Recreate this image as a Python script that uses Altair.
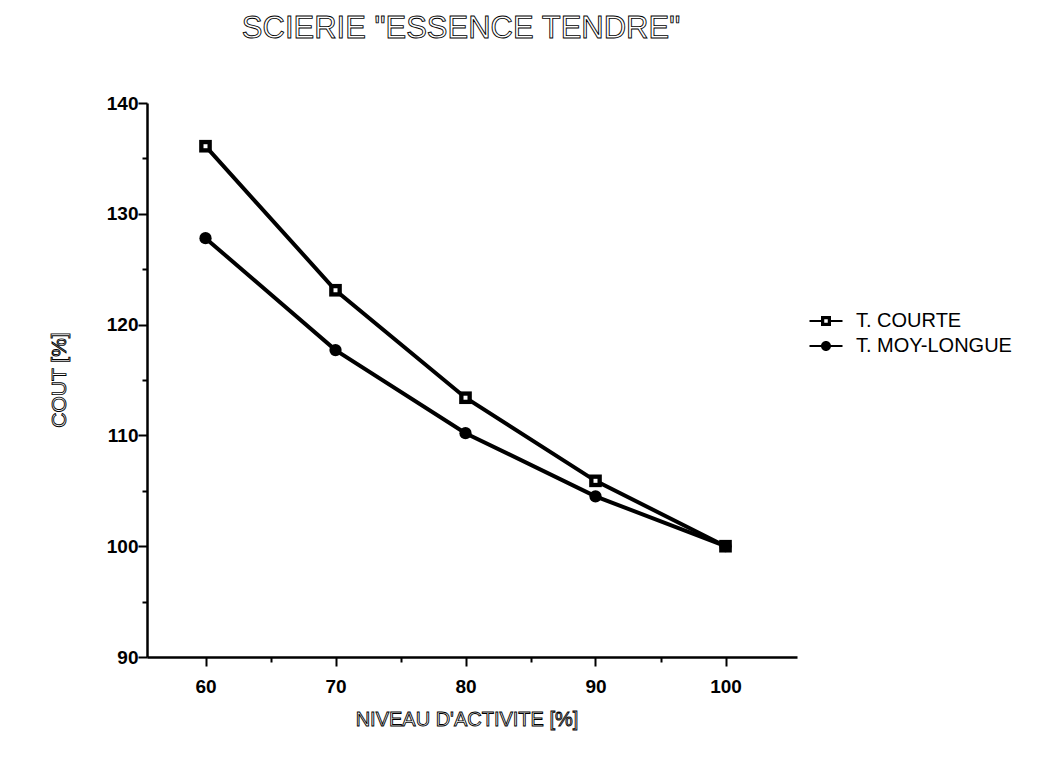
import altair as alt
import pandas as pd

# ---- data ----
niveau = [60, 70, 80, 90, 100]
courte = [136.1, 123.1, 113.4, 105.9, 100.0]
moy_longue = [127.8, 117.7, 110.2, 104.5, 100.0]
series_names = ["T. COURTE", "T. MOY-LONGUE"]
x_tick_values = [60, 65, 70, 75, 80, 85, 90, 95, 100]
y_tick_values = [90, 95, 100, 105, 110, 115, 120, 125, 130, 135, 140]
chart_title = 'SCIERIE "ESSENCE TENDRE"'
x_title = "NIVEAU D'ACTIVITE [%]"
y_title = "COUT [%]"

rows = []
for name, vals in zip(series_names, [courte, moy_longue]):
    for n, v in zip(niveau, vals):
        rows.append({"niveau": n, "cout": v, "serie": name})
df = pd.DataFrame(rows)

FONT = "Liberation Sans"

x_scale = alt.Scale(domain=[55.5, 105.5], nice=False, zero=False)
y_scale = alt.Scale(domain=[90, 140], nice=False, zero=False)

x_axis = alt.Axis(
    values=x_tick_values,
    labelExpr="datum.value % 10 === 0 ? datum.label : ''",
    tickSize={"condition": {"test": "datum.value % 10 === 0", "value": 9}, "value": 5},
    title=None, grid=False, domainColor="black", domainWidth=2.5,
    tickColor="black", tickWidth=2, labelColor="black", labelFont=FONT,
    labelFontSize=19, labelFontWeight="bold", labelPadding=11, labelFlush=False,
)
y_axis = alt.Axis(
    values=y_tick_values,
    labelExpr="datum.value % 10 === 0 ? datum.label : ''",
    tickSize={"condition": {"test": "datum.value % 10 === 0", "value": 9}, "value": 5},
    title=None, grid=False, domainColor="black", domainWidth=2.5,
    tickColor="black", tickWidth=2, labelColor="black", labelFont=FONT,
    labelFontSize=19, labelFontWeight="bold", labelPadding=0, labelFlush=False,
)

X = alt.X("niveau:Q", scale=x_scale, axis=x_axis)
Y = alt.Y("cout:Q", scale=y_scale, axis=y_axis)

base = alt.Chart(df)

lines = base.mark_line(color="black", strokeWidth=4).encode(
    x=X, y=Y, detail="serie:N"
)

# legend symbols: line stub + marker (square with white hole / disc)
legend_paths = [
    "M-3.3,-0.18H-1V0.18H-3.3Z M1,-0.18H3.3V0.18H1Z M-1,-1H1V1H-1Z M-0.35,-0.35V0.35H0.35V-0.35Z",
    "M-3.3,-0.18H-0.9V0.18H-3.3Z M0.9,-0.18H3.3V0.18H0.9Z M-1,0A1,1,0,1,1,1,0A1,1,0,1,1,-1,0Z",
]

legend_layer = base.transform_filter("false").mark_point(
    filled=True, color="black", opacity=1, size=100, strokeWidth=0
).encode(
    x=X, y=Y,
    shape=alt.Shape(
        "serie:N",
        scale=alt.Scale(domain=series_names, range=legend_paths),
        legend=alt.Legend(
            title=None, orient="none", legendX=669, legendY=208,
            symbolSize=100, symbolFillColor="black", symbolStrokeWidth=0,
            symbolOpacity=1, labelFont=FONT, labelFontSize=20, labelColor="black",
            labelOffset=20, rowPadding=5, padding=0,
        ),
    ),
)

sq = base.transform_filter(alt.datum.serie == series_names[0]).mark_point(
    filled=True, color="black", opacity=1, shape="square", size=160
).encode(x=X, y=Y)

centers = base.transform_filter(alt.datum.serie == series_names[0]).mark_point(
    filled=True, color="white", opacity=1, shape="square", size=16
).encode(x=X, y=Y)

dots = base.transform_filter(alt.datum.serie == series_names[1]).mark_point(
    filled=True, color="black", opacity=1, shape="circle", size=150
).encode(x=X, y=Y)


def outlined_text(txt, x, y, size, angle=0):
    return alt.Chart(pd.DataFrame({"t": [txt]})).mark_text(
        font=FONT, fontSize=size, fill="white", stroke="black", strokeWidth=0.9,
        align="center", baseline="middle", angle=angle,
    ).encode(text="t:N", x=alt.value(x), y=alt.value(y))


title_mark = outlined_text(chart_title, 314, -74, 31)
xtitle_mark = outlined_text(x_title, 320, 617, 20)
ytitle_mark = outlined_text(y_title, -87, 277, 21, angle=270)

chart = alt.layer(
    lines, sq, centers, dots, legend_layer, title_mark, xtitle_mark, ytitle_mark
).properties(
    width=650, height=554,
    autosize=alt.AutoSizeParams(type="none"),
    padding={"left": 139, "top": 95, "right": 246, "bottom": 95},
    background="white",
).configure_view(stroke=None)

chart.save("out.html", embed_options={"renderer": "svg", "actions": False})
